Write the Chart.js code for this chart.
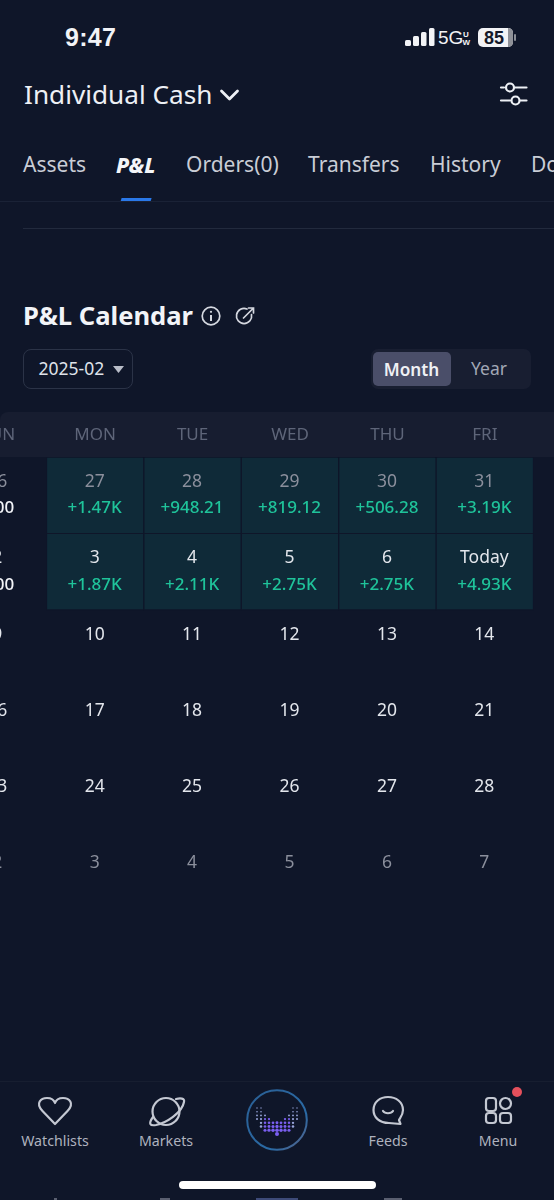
<!DOCTYPE html>
<html>
<head>
<meta charset="utf-8">
<title>P&amp;L Calendar</title>
<script src="https://cdn.jsdelivr.net/npm/chart.js@4/dist/chart.umd.min.js"></script>
<style>
html, body { margin: 0; padding: 0; background: #0f1629; }
#page { position: relative; width: 554px; height: 1200px; overflow: hidden; background: #0f1629; font-family: "Noto Sans", sans-serif; color: #e8ebf2; }
.t { position: absolute; white-space: nowrap; transform: translateY(-50%); line-height: 1; }
.c { transform: translate(-50%, -50%); }
.box { position: absolute; box-sizing: border-box; }
svg { position: absolute; overflow: visible; }
#cal { position: absolute; left: -51.2px; top: 412px; }
</style>
</head>
<body>
<div id="page">
  <!-- status bar -->
  <div class="t" style="left:65px;top:37px;font:600 25px 'Liberation Sans';letter-spacing:.3px;color:#f2f3f6">9:47</div>
  <svg style="left:0;top:0" width="554" height="60" fill="#f2f3f6">
    <rect x="405" y="40" width="6" height="6" rx="1.5"/><rect x="413" y="36" width="6" height="10" rx="1.5"/>
    <rect x="421" y="32" width="5.5" height="14" rx="1.5"/><rect x="429" y="28" width="5.5" height="18" rx="1.5"/>
    <rect x="478" y="28" width="35" height="19" rx="5"/>
    <path d="M508 28H508.5A5 5 0 0 1 513 33V42A5 5 0 0 1 508.5 47H508Z" fill="#8f9198"/>
    <rect x="514" y="34" width="2" height="7" rx="1" fill="#8a8d95"/>
  </svg>
  <div class="t" style="left:438px;top:38px;font:400 19px 'Liberation Sans';color:#f2f3f6">5G</div>
  <div class="t" style="left:463px;top:33.5px;font:700 8px 'Liberation Sans';color:#f2f3f6">U</div>
  <div class="t" style="left:462.5px;top:42px;font:700 8px 'Liberation Sans';color:#f2f3f6">W</div>
  <div class="t c" style="left:494px;top:37.5px;font:700 18px 'Liberation Sans';color:#14192a">85</div>

  <!-- account header -->
  <div class="t" style="left:24px;top:94px;font-size:26.2px;color:#edf0f5">Individual Cash</div>
  <svg style="left:220px;top:89px" width="20" height="14" fill="none" stroke="#edf0f5" stroke-width="2.8" stroke-linecap="round" stroke-linejoin="round"><path d="M1.5 2 L9.5 10 L17.5 2"/></svg>
  <svg style="left:500px;top:82px" width="28" height="26" fill="none" stroke="#edf0f5" stroke-width="2.2" stroke-linecap="round">
    <path d="M1 5.5H4M15 5.5H26.5M1 18.5H10M20.5 18.5H26.5"/><circle cx="10" cy="5.5" r="4"/><circle cx="15.5" cy="18.5" r="4"/>
  </svg>

  <!-- tabs -->
  <div class="t" style="left:23px;top:164px;font-size:21px;color:#c9cdd6">Assets</div>
  <div class="t" style="left:116px;top:164px;font:italic 800 21.5px 'Noto Sans';color:#f4f6f9">P&amp;L</div>
  <div class="t" style="left:186px;top:164px;font-size:21px;color:#c9cdd6">Orders(0)</div>
  <div class="t" style="left:308px;top:164px;font-size:21px;color:#c9cdd6">Transfers</div>
  <div class="t" style="left:430px;top:164px;font-size:21px;color:#c9cdd6">History</div>
  <div class="t" style="left:531px;top:164px;font-size:21px;color:#c9cdd6">Documents</div>
  <div class="box" style="left:121px;top:198px;width:30px;height:4px;background:#2a78e8;transform:skewX(-18deg)"></div>
  <div class="box" style="left:0;top:201px;width:554px;height:1px;background:#1a2236"></div>
  <div class="box" style="left:23px;top:228px;width:531px;height:1px;background:#222a3d"></div>

  <!-- calendar heading -->
  <div class="t" style="left:23px;top:314.5px;font:700 25.6px 'Noto Sans';color:#f2f4f8">P&amp;L Calendar</div>
  <svg style="left:201px;top:306px" width="20" height="20" fill="none" stroke="#d5d8e0" stroke-width="1.7">
    <circle cx="10" cy="10" r="8.8"/><path d="M10 9V15" stroke-width="2"/><circle cx="10" cy="5.8" r="1.1" fill="#d5d8e0" stroke="none"/>
  </svg>
  <svg style="left:236px;top:306px" width="20" height="20" fill="none" stroke="#d5d8e0" stroke-width="1.7" stroke-linecap="round">
    <path d="M15.5 8.5 A7.6 7.6 0 1 1 11 3"/><path d="M7.5 12 L17 2.5 M12.5 2 H17.5 V7"/>
  </svg>

  <!-- month picker -->
  <div class="box" style="left:23px;top:349px;width:110px;height:40px;border:1px solid #2b3347;border-radius:8px"></div>
  <div class="t" style="left:38.5px;top:369px;font-size:17.5px;color:#dfe2e9">2025-02</div>
  <svg style="left:113px;top:366px" width="11" height="7" fill="#b9bdc8"><path d="M0 0H11L5.5 7Z"/></svg>
  <div class="box" style="left:371px;top:349px;width:160px;height:40px;background:#181e31;border-radius:7px"></div>
  <div class="box" style="left:373px;top:352px;width:78px;height:34px;background:#4a4e69;border-radius:5px"></div>
  <div class="t c" style="left:411.5px;top:369px;font:600 17.2px 'Noto Sans';color:#f0f1f5">Month</div>
  <div class="t c" style="left:489px;top:369px;font-size:17.5px;color:#a2a7b5">Year</div>

  <!-- weekday band sits behind the transparent chart canvas -->
  <div class="box" style="left:0;top:412px;width:562px;height:45px;background:#171d30;border-radius:8px 0 0 0"></div>
  <canvas id="cal" width="682" height="503" style="width:682px;height:503px"></canvas>

  <!-- bottom navigation -->
  <div class="box" style="left:0;top:1081px;width:554px;height:1px;background:#171e30"></div>
  <svg style="left:0;top:1085px" width="554" height="60" fill="none" stroke="#c4c8d2" stroke-width="2.2" stroke-linecap="round" stroke-linejoin="round">
    <path d="M55 39 L42.5 26 C35 18 41 13 47 13 C51 13 54 15 55 18 C56 15 59 13 63 13 C69 13 75 18 67.5 26 Z"/>
    <circle cx="166" cy="26.5" r="13.5"/>
    <path d="M153 32 C148 39 150 41 156 40 C166 38 182 28 184 17 C185 13 180 13 176 14"/>
    <path d="M389 38 C379 38 373.5 32 373.5 25 C373.5 17 380 12 388 12 C396 12 403 17 403 25 C403 30 400 33 399 35 L400.5 39 L389 38"/>
    <path d="M383 26 C385 29 391 29 393 26"/>
    <rect x="486" y="13" width="10" height="13" rx="3"/><circle cx="505.5" cy="18.5" r="5.5"/>
    <rect x="486" y="28" width="10" height="10" rx="3"/><rect x="500" y="28" width="11" height="10" rx="3"/>
  </svg>
  <div class="box" style="left:512px;top:1087px;width:10px;height:10px;border-radius:50%;background:#e5505c"></div>
  <div class="t c" style="left:55px;top:1141px;font-size:14.2px;color:#aeb2be">Watchlists</div>
  <div class="t c" style="left:166px;top:1141px;font-size:14.2px;color:#aeb2be">Markets</div>
  <div class="t c" style="left:388px;top:1141px;font-size:14.2px;color:#aeb2be">Feeds</div>
  <div class="t c" style="left:498px;top:1141px;font-size:14.2px;color:#aeb2be">Menu</div>
  <svg id="logo" style="left:246px;top:1089px" width="62" height="62">
    <defs><linearGradient id="ring" x1="0" y1="0" x2="1" y2="1"><stop offset="0" stop-color="#2a5f94"/><stop offset=".7" stop-color="#2a6aa5"/><stop offset="1" stop-color="#5d6285"/></linearGradient></defs>
    <circle cx="31" cy="31" r="29.8" fill="none" stroke="url(#ring)" stroke-width="2"/>
  </svg>
  <div class="box" style="left:179px;top:1181px;width:197px;height:7.5px;border-radius:4px;background:#fff"></div>
  <!-- tops of the next row of icons, cut off by the screenshot edge -->
  <div class="box" style="left:54px;top:1198px;width:3px;height:2px;background:#5a5f70"></div>
  <div class="box" style="left:160px;top:1198px;width:10px;height:2px;background:#5a5f70"></div>
  <div class="box" style="left:256px;top:1198px;width:42px;height:2px;background:#3d4a78"></div>
  <div class="box" style="left:384px;top:1198px;width:18px;height:2px;background:#5a5f70"></div>
</div>

<script>
const weekdays = ['SUN', 'MON', 'TUE', 'WED', 'THU', 'FRI', 'SAT'];

const week1Dates = ['26', '27', '28', '29', '30', '31', '1'];
const week2Dates = ['2', '3', '4', '5', '6', 'Today', '8'];
const week3Dates = ['9', '10', '11', '12', '13', '14', '15'];
const week4Dates = ['16', '17', '18', '19', '20', '21', '22'];
const week5Dates = ['23', '24', '25', '26', '27', '28', '1'];
const week6Dates = ['2', '3', '4', '5', '6', '7', '8'];

// daily P&L, null = no result yet
const week1Pnl = [0, 1470, 948.21, 819.12, 506.28, 3190, 0];
const week2Pnl = [0, 1870, 2110, 2750, 2750, 4930, null];

const allDates = [week1Dates, week2Dates, week3Dates, week4Dates, week5Dates, week6Dates];
const allPnl = [week1Pnl, week2Pnl];

// cells outside February are greyed out
const firstCellOfMonth = 6, lastCellOfMonth = 33;

const PAGE_BG = '#0f1629';

function fmtPnl(v) {
    if (v === 0) return '0.00';
    const abs = Math.abs(v), sign = v > 0 ? '+' : '-';
    return sign + (abs >= 1000 ? (abs / 1000).toFixed(2) + 'K' : abs.toFixed(2));
}

function weekCells(pnl, week) {
    return pnl.map(v => (v ? [week, week + 1] : null));
}

// dates and amounts are placed through the chart's own scales
const cellText = {
    id: 'cellText',
    afterDatasetsDraw(chart) {
        const {ctx, scales: {x, y}} = chart;
        ctx.save();
        ctx.textAlign = 'center';
        ctx.textBaseline = 'middle';
        allDates.forEach((dates, w) => {
            const cy = y.getPixelForValue(w + 0.5);
            dates.forEach((d, i) => {
                const cx = x.getPixelForValue(i) - 0.5, idx = w * 7 + i;
                ctx.font = '17.5px "Noto Sans"';
                ctx.fillStyle = (idx < firstCellOfMonth || idx > lastCellOfMonth) ? '#8b8f9c' : '#e3e6ec';
                ctx.fillText(d, cx, cy - 13.5);
                const v = allPnl[w] ? allPnl[w][i] : null;
                if (v === null || v === undefined) return;
                ctx.font = '500 17px "Noto Sans"';
                ctx.fillStyle = v > 0 ? '#1fc39a' : '#f2f4f8';
                ctx.fillText(fmtPnl(v), cx, cy + 13);
            });
        });
        ctx.restore();
    }
};

new Chart(document.getElementById('cal').getContext('2d'), {
    type: 'bar',
    data: {
        labels: weekdays,
        datasets: allPnl.map((pnl, w) => ({
            label: 'week ' + (w + 1),
            data: weekCells(pnl, w),
            backgroundColor: '#0f2a38',
            borderColor: PAGE_BG,
            borderWidth: 1,
            barPercentage: 1,
            categoryPercentage: 1,
            grouped: false
        }))
    },
    options: {
        responsive: false,
        animation: false,
        layout: {padding: 0},
        plugins: {legend: {display: false}, tooltip: {enabled: false}},
        scales: {
            x: {
                position: 'top',
                grid: {display: false},
                border: {display: false},
                ticks: {color: '#5e6579', font: {family: 'Noto Sans', size: 17}, padding: 4, maxRotation: 0, autoSkip: false},
                afterFit(scale) { scale.height = 45.5; }
            },
            y: {display: false, reverse: true, min: 0, max: 6}
        }
    },
    plugins: [cellText]
});

// smile logo in the nav button
const logo = document.getElementById('logo');
for (let row = 0; row < 8; row++) {
    for (let col = -5; col <= 5; col++) {
        const dx = col * 4, dy = -12 + row * 3.7;
        const outer = (dx * dx) / (22 * 22) + ((dy + 7) * (dy + 7)) / (21 * 21);
        const inner = (dx * dx) / (13 * 13) + ((dy + 12) * (dy + 12)) / (12.5 * 12.5);
        if (outer > 1 || inner < 1) continue;
        const dot = document.createElementNS('http://www.w3.org/2000/svg', 'circle');
        const depth = row / 7, centre = 1 - Math.abs(col) / 5;
        dot.setAttribute('cx', 31 + dx);
        dot.setAttribute('cy', 31 + dy);
        dot.setAttribute('r', 0.7 + depth * (0.7 + centre * 0.6));
        dot.setAttribute('fill', depth > 0.4 && centre > 0.2 ? '#7a5ff0' : '#98a5da');
        logo.appendChild(dot);
    }
}
</script>
</body>
</html>
